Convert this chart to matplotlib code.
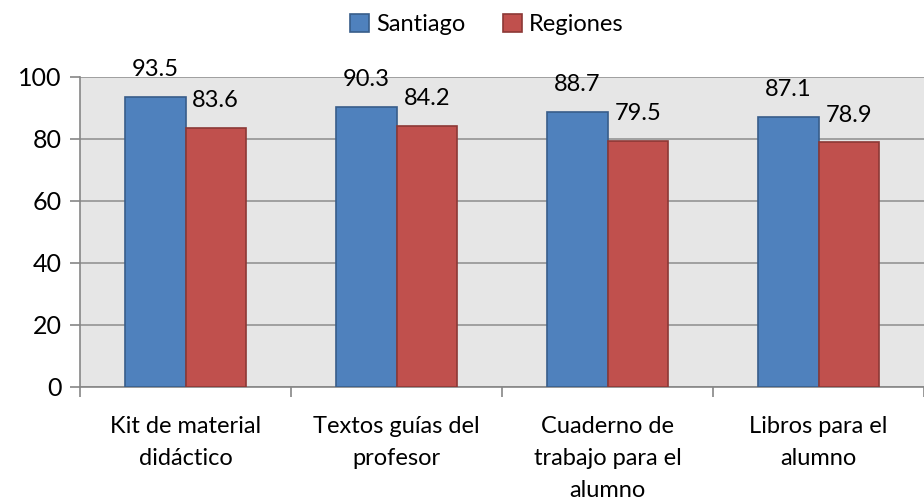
import numpy as np
import matplotlib.pyplot as plt
from matplotlib.ticker import FixedLocator

plt.rcParams['font.family'] = ['Lato', 'DejaVu Sans']

categorias = ['Kit de material\ndidáctico', 'Textos guías del\nprofesor',
              'Cuaderno de\ntrabajo para el\nalumno', 'Libros para el\nalumno']
santiago = [93.5, 90.3, 88.7, 87.1]
regiones = [83.6, 84.2, 79.5, 78.9]

fig = plt.figure(figsize=(9.24, 5.01), dpi=100)
ax = fig.add_axes([80/924, 1-387/501, 1-80/924, 310/501])
ax.set_facecolor('#e6e6e6')

x = np.arange(len(categorias))
w = 0.286
b1 = ax.bar(x - w/2, santiago, w, color='#4f81bd', edgecolor='#385d8a', linewidth=1.2,
            label='Santiago', zorder=3)
b2 = ax.bar(x + w/2, regiones, w, color='#c0504d', edgecolor='#8c3836', linewidth=1.2,
            label='Regiones', zorder=3)

for bars, vals in ((b1, santiago), (b2, regiones)):
    for r, v in zip(bars, vals):
        ax.annotate(f'{v:.1f}', (r.get_x() + r.get_width()/2, v), xytext=(0, 12),
                    textcoords='offset points', ha='center', va='bottom', fontsize=17)

ax.set_xlim(-0.5, len(categorias) - 0.5)
ax.set_ylim(0, 100)
ax.set_yticks(range(0, 101, 20))
ax.yaxis.grid(True, color='#9a9a9a', linewidth=1.3, zorder=0)
ax.set_axisbelow(True)

ax.set_xticks(x)
ax.set_xticklabels(categorias, fontsize=17, linespacing=1.65)
ax.xaxis.set_minor_locator(FixedLocator(np.arange(-0.5, len(categorias), 1)))
ax.tick_params(axis='x', which='major', length=0, pad=21)
ax.tick_params(axis='x', which='minor', length=7, color='#868686', width=1.2)
ax.tick_params(axis='y', length=7, color='#868686', width=1.2, labelsize=18, pad=6)

for s in ('top', 'right'):
    ax.spines[s].set_visible(False)
for s in ('left', 'bottom'):
    ax.spines[s].set_color('#868686')
    ax.spines[s].set_linewidth(1.2)

fig.legend(loc='upper center', bbox_to_anchor=(0.527, 1.015), ncol=2, frameon=False,
           fontsize=17, handlelength=0.8, handleheight=0.8, handletextpad=0.3,
           columnspacing=1.6)

fig.savefig('out.png', dpi=100)
